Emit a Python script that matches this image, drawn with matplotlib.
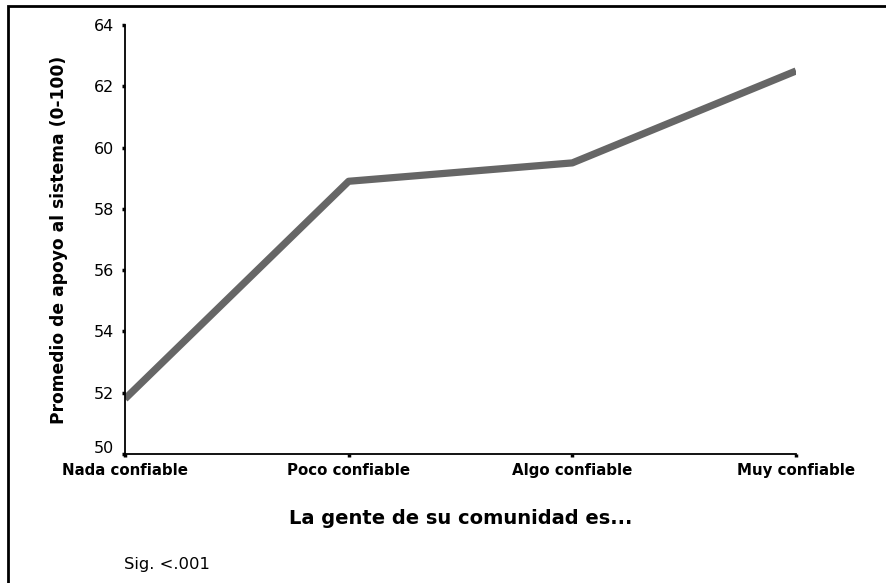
import matplotlib
matplotlib.use("Agg")
import matplotlib.pyplot as plt
from matplotlib.patches import Rectangle
from matplotlib.transforms import ScaledTranslation

categories = ["Nada confiable", "Poco confiable", "Algo confiable", "Muy confiable"]
values = [51.8, 58.9, 59.5, 62.5]
yticks = [50, 52, 54, 56, 58, 60, 62, 64]

plt.rcParams['font.family'] = ['DejaVu Sans']

W, H = 886, 583
fig = plt.figure(figsize=(W / 100, H / 100), dpi=100)
ax = fig.add_axes([125 / W, 1 - 454 / H, (796 - 125) / W, (454 - 25) / H])

x = list(range(len(categories)))
ax.plot(x, values, color="#666666", linewidth=5.2, solid_capstyle="butt", solid_joinstyle="round")

ax.set_xlim(0, len(categories) - 1)
ax.set_ylim(50, 64)
ax.set_yticks(yticks)
ax.set_yticklabels([str(t) for t in yticks], fontsize=11.5)
ax.set_xticks(x)
ax.set_xticklabels(categories, fontsize=10.8, fontweight="bold")

for s in ["top", "right"]:
    ax.spines[s].set_visible(False)
for s in ["left", "bottom"]:
    ax.spines[s].set_linewidth(1.3)
    ax.spines[s].set_color("black")
ax.tick_params(axis="both", direction="out", length=2.5, width=2.5, color="black")
ax.tick_params(axis="y", pad=5.5)
ax.tick_params(axis="x", pad=4)

# lowest y label sits slightly above its tick (as in the reference)
lbl = ax.get_yticklabels()[0]
lbl.set_transform(lbl.get_transform() + ScaledTranslation(0, 7 / 100, fig.dpi_scale_trans))

fig.text(59 / W, 1 - 240 / H, "Promedio de apoyo al sistema (0-100)", rotation=90,
         ha="center", va="center", fontsize=12.3, fontweight="bold")
fig.text(461 / W, 1 - 518 / H, "La gente de su comunidad es...", ha="center", va="center",
         fontsize=14, fontweight="bold")
fig.text(124 / W, 1 - 564 / H, "Sig. <.001", ha="left", va="center", fontsize=11.8)

fig.patches.append(Rectangle((7.5 / W, -0.05), 1.1, 1 - 5.5 / H + 0.05, transform=fig.transFigure,
                             fill=False, edgecolor="black", linewidth=2, clip_on=False))

fig.savefig("out.png", dpi=100)
